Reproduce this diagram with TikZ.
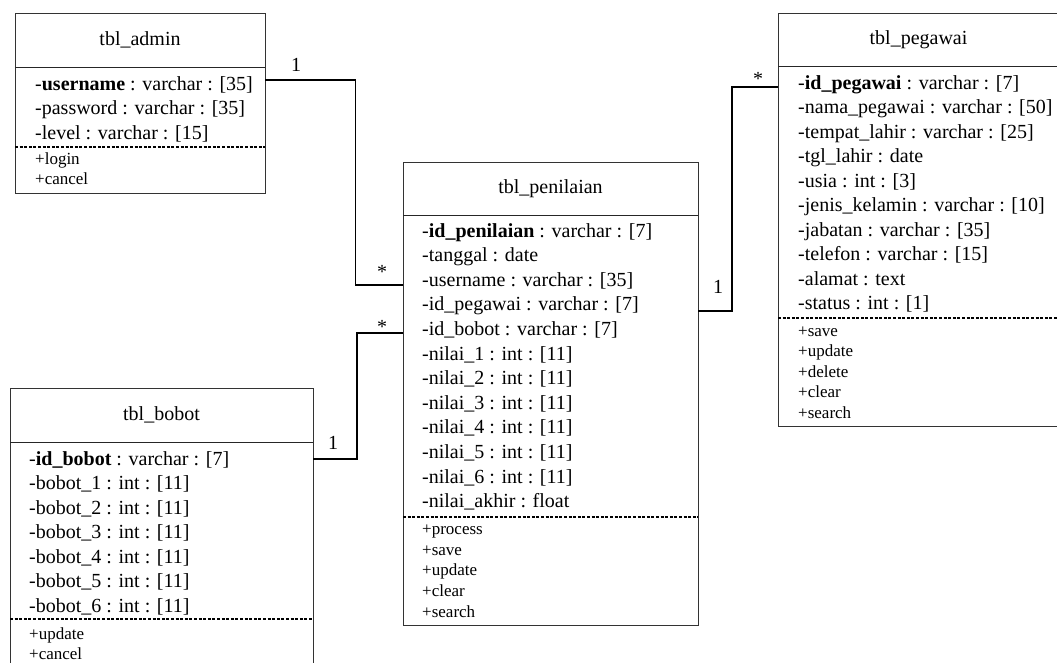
\documentclass[tikz,border=0pt]{standalone}
\usepackage{fontspec}
\setmainfont{Liberation Serif}
\begin{document}
\begin{tikzpicture}[x=1pt,y=-1pt,
  box/.style={draw=black!80, line width=0.9pt, anchor=north west, inner sep=0pt, outer sep=0pt},
  rule/.style={draw=black!85, line width=0.9pt},
  split/.style={draw=black, line width=1.2pt, dash pattern=on 3pt off 1.6pt},
  title/.style={font=\fontsize{20}{24}\selectfont, inner sep=0pt},
  attr/.style={font=\fontsize{20}{24}\selectfont, anchor=west, inner sep=0pt, text height=14pt, text depth=4pt},
  meth/.style={font=\fontsize{17}{20}\selectfont, anchor=west, inner sep=0pt, text height=12pt, text depth=3.5pt},
  conn/.style={draw=black, line width=1.8pt},
  mult/.style={font=\fontsize{20}{24}\selectfont, inner sep=0pt}
]
\clip (0,0) rectangle (1057,662);
\fill[white] (0,0) rectangle (1057,662);

% ---------------- tbl_admin ----------------
\node[box, minimum width=250pt, minimum height=180pt] (admin) at (15,13) {};
\draw[rule] (admin.west |- 0,67) -- (admin.east |- 0,67);
\node[title] (admin-t) at (140,40) {tbl\_admin};
\foreach \t [count=\i] in {-\textbf{username} : varchar : [35],
                           -password : varchar : [35],
                           -level : varchar : [15]}
  \node[attr] (admin-a\i) at (35,{85+(\i-1)*24.5}) {\t};
\draw[split] (admin.west |- 0,147) -- (admin.east |- 0,147);
\foreach \t [count=\i] in {+login, +cancel}
  \node[meth] (admin-m\i) at (35,{160+(\i-1)*20.5}) {\t};

% ---------------- tbl_penilaian ----------------
\node[box, minimum width=295pt, minimum height=463pt] (pnl) at (403,162) {};
\draw[rule] (pnl.west |- 0,215) -- (pnl.east |- 0,215);
\node[title] (pnl-t) at (550.5,188.5) {tbl\_penilaian};
\foreach \t [count=\i] in {-\textbf{id\_penilaian} : varchar : [7],
                           -tanggal : date,
                           -username : varchar : [35],
                           -id\_pegawai : varchar : [7],
                           -id\_bobot : varchar : [7],
                           -nilai\_1 : int : [11],
                           -nilai\_2 : int : [11],
                           -nilai\_3 : int : [11],
                           -nilai\_4 : int : [11],
                           -nilai\_5 : int : [11],
                           -nilai\_6 : int : [11],
                           -nilai\_akhir : float}
  \node[attr] (pnl-a\i) at (422,{232+(\i-1)*24.6}) {\t};
\draw[split] (pnl.west |- 0,517) -- (pnl.east |- 0,517);
\foreach \t [count=\i] in {+process, +save, +update, +clear, +search}
  \node[meth] (pnl-m\i) at (422,{530+(\i-1)*20.75}) {\t};

% ---------------- tbl_bobot ----------------
\node[box, minimum width=303pt, minimum height=290pt] (bbt) at (10,388) {};
\draw[rule] (bbt.west |- 0,442) -- (bbt.east |- 0,442);
\node[title] (bbt-t) at (161.5,415) {tbl\_bobot};
\foreach \t [count=\i] in {-\textbf{id\_bobot} : varchar : [7],
                           -bobot\_1 : int : [11],
                           -bobot\_2 : int : [11],
                           -bobot\_3 : int : [11],
                           -bobot\_4 : int : [11],
                           -bobot\_5 : int : [11],
                           -bobot\_6 : int : [11]}
  \node[attr] (bbt-a\i) at (29,{460+(\i-1)*24.5}) {\t};
\draw[split] (bbt.west |- 0,619) -- (bbt.east |- 0,619);
\foreach \t [count=\i] in {+update, +cancel}
  \node[meth] (bbt-m\i) at (29,{635+(\i-1)*20.5}) {\t};

% ---------------- tbl_pegawai ----------------
\node[box, minimum width=282pt, minimum height=413pt] (pgw) at (778,13) {};
\draw[rule] (pgw.west |- 0,66) -- (pgw.east |- 0,66);
\node[title] (pgw-t) at (918.5,39.5) {tbl\_pegawai};
\foreach \t [count=\i] in {-\textbf{id\_pegawai} : varchar : [7],
                           -nama\_pegawai : varchar : [50],
                           -tempat\_lahir : varchar : [25],
                           -tgl\_lahir : date,
                           -usia : int : [3],
                           -jenis\_kelamin : varchar : [10],
                           -jabatan : varchar : [35],
                           -telefon : varchar : [15],
                           -alamat : text,
                           -status : int : [1]}
  \node[attr] (pgw-a\i) at (798,{84+(\i-1)*24.5}) {\t};
\draw[split] (pgw.west |- 0,318) -- (pgw.east |- 0,318);
\foreach \t [count=\i] in {+save, +update, +delete, +clear, +search}
  \node[meth] (pgw-m\i) at (798,{332+(\i-1)*20.5}) {\t};

% ---------------- associations ----------------
\draw[conn] (admin.east |- 0,80) -| (355.5,285) -- (pnl.west |- 0,285);
\node[mult] (m-admin) at (296,65) {1};
\node[mult] (m-pnl1) at (382,272) {*};

\draw[conn] (bbt.east |- 0,459) -| (357,333) -- (pnl.west |- 0,333);
\node[mult] (m-bbt) at (333,443) {1};
\node[mult] (m-pnl2) at (382,327) {*};

\draw[conn] (pnl.east |- 0,311) -| (732,87) -- (pgw.west |- 0,87);
\node[mult] (m-pnl3) at (718,287) {1};
\node[mult] (m-pgw) at (758,79) {*};
\end{tikzpicture}
\end{document}
